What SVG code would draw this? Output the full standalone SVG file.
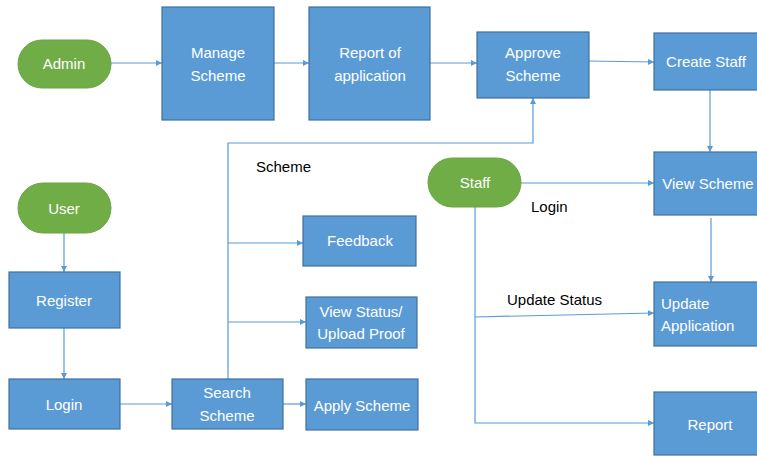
<svg xmlns="http://www.w3.org/2000/svg" width="757" height="456" viewBox="0 0 757 456">
<style>
.box{fill:#5B9BD5;stroke:#41719C;stroke-width:1.2}
.pill{fill:#70AD47;stroke:#6AA443;stroke-width:1}
.t{font-family:"Liberation Sans",Arial,sans-serif;font-size:15px;fill:#fff;text-anchor:middle}
.l{font-family:"Liberation Sans",Arial,sans-serif;font-size:15px;fill:#000}
.c{fill:none;stroke:#5B9BD5;stroke-width:1.2}
.a{marker-end:url(#ah)}
</style>
<defs>
<marker id="ah" viewBox="0 0 10 10" refX="10" refY="5" markerWidth="6" markerHeight="6" markerUnits="userSpaceOnUse" orient="auto">
<path d="M0,0 L10,5 L0,10 Z" fill="#5B9BD5"/>
</marker>
</defs>
<rect width="757" height="456" fill="#fff"/>
<g id="connectors">
<line class="c a" x1="111" y1="63" x2="162" y2="63"/>
<line class="c a" x1="274" y1="63" x2="309" y2="63"/>
<line class="c a" x1="430" y1="63" x2="477" y2="63"/>
<line class="c a" x1="589" y1="61" x2="654" y2="62"/>
<line class="c a" x1="710" y1="90" x2="710" y2="152"/>
<line class="c a" x1="64" y1="233" x2="64" y2="272"/>
<line class="c a" x1="64" y1="328" x2="64" y2="379"/>
<line class="c a" x1="120" y1="404" x2="172" y2="404"/>
<line class="c a" x1="283" y1="404" x2="306" y2="404"/>
<polyline class="c a" points="228,379 228,143 533,143 533,98"/>
<line class="c a" x1="228" y1="243" x2="303" y2="243"/>
<line class="c a" x1="228" y1="322" x2="306" y2="322"/>
<line class="c a" x1="521" y1="183" x2="654" y2="183"/>
<line class="c a" x1="711" y1="218" x2="711" y2="282"/>
<polyline class="c a" points="475,207 475,423 654,423"/>
<line class="c a" x1="475" y1="317" x2="654" y2="313"/>
<text class="l" x="256" y="172">Scheme</text>
<text class="l" x="531" y="212">Login</text>
<text class="l" x="507" y="305">Update Status</text>
</g>
<g id="admin"><rect class="pill" x="18" y="40" width="93" height="48" rx="24"/><text class="t" x="64" y="69">Admin</text></g>
<g id="manage-scheme"><rect class="box" x="162" y="7" width="112" height="113"/><text class="t" x="218" y="58">Manage</text><text class="t" x="218" y="81">Scheme</text></g>
<g id="report-of-application"><rect class="box" x="309" y="7" width="121" height="113"/><text class="t" x="370" y="58">Report of</text><text class="t" x="370" y="81">application</text></g>
<g id="approve-scheme"><rect class="box" x="477" y="32" width="112" height="66"/><text class="t" x="533" y="58">Approve</text><text class="t" x="533" y="81">Scheme</text></g>
<g id="create-staff"><rect class="box" x="654" y="33" width="104" height="57"/><text class="t" x="706" y="67">Create Staff</text></g>
<g id="user"><rect class="pill" x="18" y="183" width="93" height="50" rx="25"/><text class="t" x="64" y="214">User</text></g>
<g id="register"><rect class="box" x="9" y="272" width="111" height="56"/><text class="t" x="64" y="306">Register</text></g>
<g id="login"><rect class="box" x="9" y="379" width="111" height="50"/><text class="t" x="64" y="410">Login</text></g>
<g id="search-scheme"><rect class="box" x="172" y="379" width="111" height="50"/><text class="t" x="227" y="398">Search</text><text class="t" x="227" y="421">Scheme</text></g>
<g id="feedback"><rect class="box" x="303" y="216" width="113" height="50"/><text class="t" x="360" y="246">Feedback</text></g>
<g id="view-status"><rect class="box" x="306" y="297" width="111" height="51"/><text class="t" x="361" y="317">View Status/</text><text class="t" x="361" y="339">Upload Proof</text></g>
<g id="apply-scheme"><rect class="box" x="306" y="379" width="112" height="51"/><text class="t" x="362" y="411">Apply Scheme</text></g>
<g id="staff"><rect class="pill" x="428" y="158" width="93" height="49" rx="24.5"/><text class="t" x="475" y="188">Staff</text></g>
<g id="view-scheme"><rect class="box" x="654" y="152" width="104" height="63"/><text class="t" x="708" y="189">View Scheme</text></g>
<g id="update-application"><rect class="box" x="654" y="282" width="104" height="64"/><text class="t" x="661" y="309" style="text-anchor:start">Update</text><text class="t" x="661" y="331" style="text-anchor:start">Application</text></g>
<g id="report"><rect class="box" x="654" y="392" width="104" height="63"/><text class="t" x="710" y="430">Report</text></g>
</svg>
